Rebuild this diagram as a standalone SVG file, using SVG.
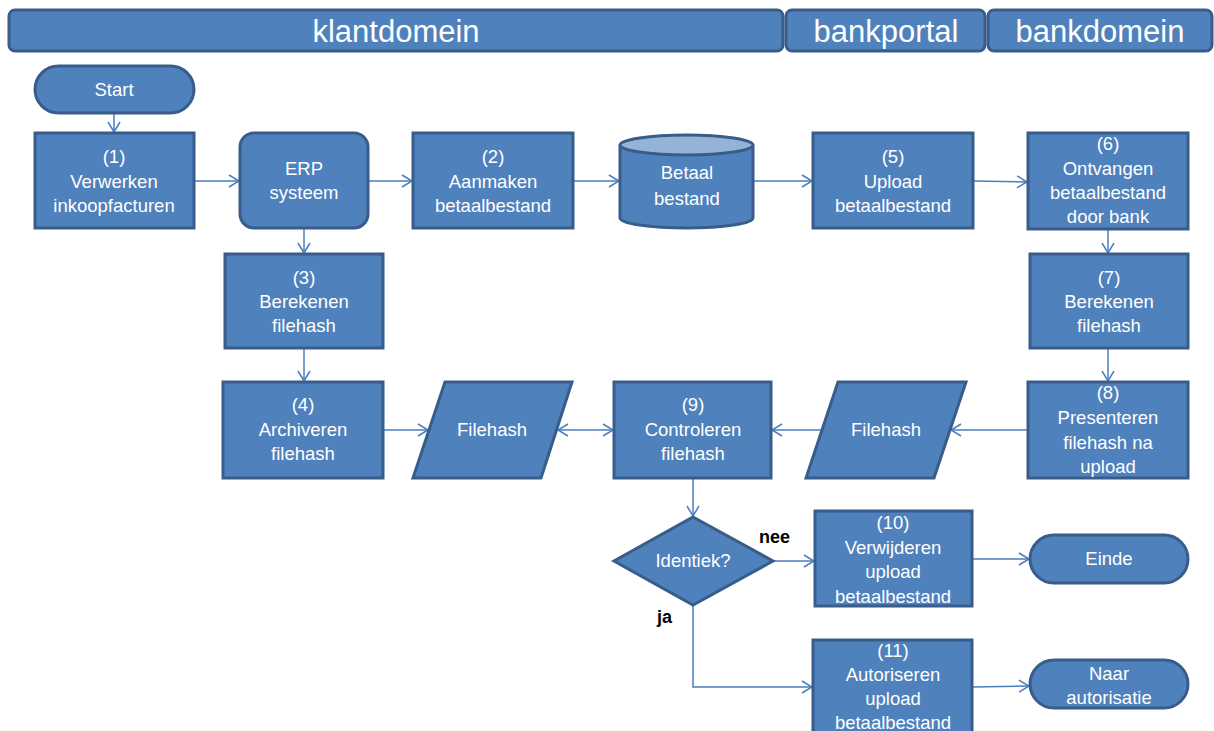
<svg xmlns="http://www.w3.org/2000/svg" width="1214" height="731" viewBox="0 0 1214 731">
  <style>
    .shape { fill: #4F81BD; stroke: #385D8A; stroke-width: 3; }
    .lane { fill: #4F81BD; stroke: #385D8A; stroke-width: 3; }
    .lbl { fill: #FFFFFF; font-family: "Liberation Sans", Arial, sans-serif; font-size: 18.5px; text-anchor: middle; }
    .lane-lbl { fill: #FFFFFF; font-family: "Liberation Sans", Arial, sans-serif; font-size: 31px; text-anchor: middle; }
    .cond { fill: #000000; font-family: "Liberation Sans", Arial, sans-serif; font-size: 18px; font-weight: bold; }
    .edge { fill: none; stroke: #4A7EBB; stroke-width: 1.5; }
  </style>
  <defs>
    <marker id="arrow" viewBox="0 0 12 14" refX="11" refY="7" markerWidth="12" markerHeight="14" markerUnits="userSpaceOnUse" orient="auto-start-reverse">
      <path d="M1,1 L11,7 L1,13" fill="none" stroke="#4A7EBB" stroke-width="1.5"/>
    </marker>
  </defs>
  <rect width="1214" height="731" fill="#FFFFFF"/>

  <!-- swimlane headers -->
  <g id="lane-klantdomein">
    <rect class="lane" x="9" y="10" width="774" height="41" rx="6"/>
    <text class="lane-lbl" x="396" y="42">klantdomein</text>
  </g>
  <g id="lane-bankportal">
    <rect class="lane" x="786" y="10" width="199" height="41" rx="6"/>
    <text class="lane-lbl" x="886" y="42">bankportal</text>
  </g>
  <g id="lane-bankdomein">
    <rect class="lane" x="988" y="10" width="224" height="41" rx="6"/>
    <text class="lane-lbl" x="1100" y="42">bankdomein</text>
  </g>

  <!-- connectors -->
  <g id="connectors">
    <path class="edge" d="M114,113 L114,132" marker-end="url(#arrow)"/>
    <path class="edge" d="M194,181 L239,181" marker-end="url(#arrow)"/>
    <path class="edge" d="M368,181 L412,181" marker-end="url(#arrow)"/>
    <path class="edge" d="M573,181 L619,181" marker-end="url(#arrow)"/>
    <path class="edge" d="M753,181 L812,181" marker-end="url(#arrow)"/>
    <path class="edge" d="M973,181 L1027,182" marker-end="url(#arrow)"/>
    <path class="edge" d="M304,228 L304,253" marker-end="url(#arrow)"/>
    <path class="edge" d="M304,348 L304,381" marker-end="url(#arrow)"/>
    <path class="edge" d="M1108,229 L1108,253" marker-end="url(#arrow)"/>
    <path class="edge" d="M1108,348 L1108,381" marker-end="url(#arrow)"/>
    <path class="edge" d="M383,430 L428,430" marker-end="url(#arrow)"/>
    <path class="edge" d="M558,430 L613,430" marker-start="url(#arrow)" marker-end="url(#arrow)"/>
    <path class="edge" d="M1028,430 L951,430" marker-end="url(#arrow)"/>
    <path class="edge" d="M822,430 L772,430" marker-end="url(#arrow)"/>
    <path class="edge" d="M693,478 L693,516" marker-end="url(#arrow)"/>
    <path class="edge" d="M773,561 L814,561" marker-end="url(#arrow)"/>
    <path class="edge" d="M693,605 L693,687 L812,687" marker-end="url(#arrow)"/>
    <path class="edge" d="M972,559 L1029,559" marker-end="url(#arrow)"/>
    <path class="edge" d="M972,687 L1029,686" marker-end="url(#arrow)"/>
  </g>

  <!-- flow nodes -->
  <g id="start">
    <rect class="shape" x="35" y="66" width="159" height="47" rx="23.5"/>
    <text class="lbl" x="114" y="96">Start</text>
  </g>
  <g id="stap1">
    <rect class="shape" x="35" y="133" width="159" height="95"/>
    <text class="lbl" x="114" y="163">(1)</text>
    <text class="lbl" x="114" y="188">Verwerken</text>
    <text class="lbl" x="114" y="212">inkoopfacturen</text>
  </g>
  <g id="erp">
    <rect class="shape" x="240" y="133" width="128" height="95" rx="14"/>
    <text class="lbl" x="304" y="175">ERP</text>
    <text class="lbl" x="304" y="199">systeem</text>
  </g>
  <g id="stap2">
    <rect class="shape" x="413" y="133" width="160" height="95"/>
    <text class="lbl" x="493" y="163">(2)</text>
    <text class="lbl" x="493" y="188">Aanmaken</text>
    <text class="lbl" x="493" y="212">betaalbestand</text>
  </g>
  <g id="betaalbestand">
    <path class="shape" d="M620,145 L620,218 A66.5,10 0 0 0 753,218 L753,145"/>
    <ellipse cx="686.5" cy="145" rx="66.5" ry="10" fill="#95B3D7" stroke="#385D8A" stroke-width="3"/>
    <text class="lbl" x="687" y="179">Betaal</text>
    <text class="lbl" x="687" y="205">bestand</text>
  </g>
  <g id="stap5">
    <rect class="shape" x="813" y="133" width="160" height="95"/>
    <text class="lbl" x="893" y="163">(5)</text>
    <text class="lbl" x="893" y="188">Upload</text>
    <text class="lbl" x="893" y="212">betaalbestand</text>
  </g>
  <g id="stap6">
    <rect class="shape" x="1028" y="133" width="160" height="96"/>
    <text class="lbl" x="1108" y="150">(6)</text>
    <text class="lbl" x="1108" y="175">Ontvangen</text>
    <text class="lbl" x="1108" y="199">betaalbestand</text>
    <text class="lbl" x="1108" y="223">door bank</text>
  </g>
  <g id="stap3">
    <rect class="shape" x="225" y="254" width="158" height="94"/>
    <text class="lbl" x="304" y="284">(3)</text>
    <text class="lbl" x="304" y="308">Berekenen</text>
    <text class="lbl" x="304" y="332">filehash</text>
  </g>
  <g id="stap7">
    <rect class="shape" x="1030" y="254" width="158" height="94"/>
    <text class="lbl" x="1109" y="284">(7)</text>
    <text class="lbl" x="1109" y="308">Berekenen</text>
    <text class="lbl" x="1109" y="332">filehash</text>
  </g>
  <g id="stap4">
    <rect class="shape" x="223" y="382" width="160" height="96"/>
    <text class="lbl" x="303" y="411">(4)</text>
    <text class="lbl" x="303" y="436">Archiveren</text>
    <text class="lbl" x="303" y="460">filehash</text>
  </g>
  <g id="filehash-klant">
    <polygon class="shape" points="445,382 572,382 541,478 413,478"/>
    <text class="lbl" x="492" y="436">Filehash</text>
  </g>
  <g id="stap9">
    <rect class="shape" x="614" y="382" width="157" height="96"/>
    <text class="lbl" x="693" y="411">(9)</text>
    <text class="lbl" x="693" y="436">Controleren</text>
    <text class="lbl" x="693" y="460">filehash</text>
  </g>
  <g id="filehash-bank">
    <polygon class="shape" points="838,382 966,382 934,478 806,478"/>
    <text class="lbl" x="886" y="436">Filehash</text>
  </g>
  <g id="stap8">
    <rect class="shape" x="1028" y="382" width="160" height="96"/>
    <text class="lbl" x="1108" y="399">(8)</text>
    <text class="lbl" x="1108" y="424">Presenteren</text>
    <text class="lbl" x="1108" y="449">filehash na</text>
    <text class="lbl" x="1108" y="473">upload</text>
  </g>
  <g id="identiek">
    <polygon class="shape" points="693,517 773,561 693,605 614,561"/>
    <text class="lbl" x="693" y="567">Identiek?</text>
  </g>
  <text class="cond" x="759" y="543">nee</text>
  <text class="cond" x="657" y="623">ja</text>
  <g id="stap10">
    <rect class="shape" x="815" y="511" width="157" height="95"/>
    <text class="lbl" x="893" y="529">(10)</text>
    <text class="lbl" x="893" y="554">Verwijderen</text>
    <text class="lbl" x="893" y="578">upload</text>
    <text class="lbl" x="893" y="603">betaalbestand</text>
  </g>
  <g id="einde">
    <rect class="shape" x="1030" y="535" width="158" height="48" rx="24"/>
    <text class="lbl" x="1109" y="565">Einde</text>
  </g>
  <g id="stap11">
    <rect class="shape" x="813" y="640" width="159" height="95"/>
    <text class="lbl" x="893" y="657">(11)</text>
    <text class="lbl" x="893" y="681">Autoriseren</text>
    <text class="lbl" x="893" y="705">upload</text>
    <text class="lbl" x="893" y="729">betaalbestand</text>
  </g>
  <g id="naar-autorisatie">
    <rect class="shape" x="1030" y="660" width="158" height="48" rx="24"/>
    <text class="lbl" x="1109" y="680">Naar</text>
    <text class="lbl" x="1109" y="704">autorisatie</text>
  </g>
</svg>
